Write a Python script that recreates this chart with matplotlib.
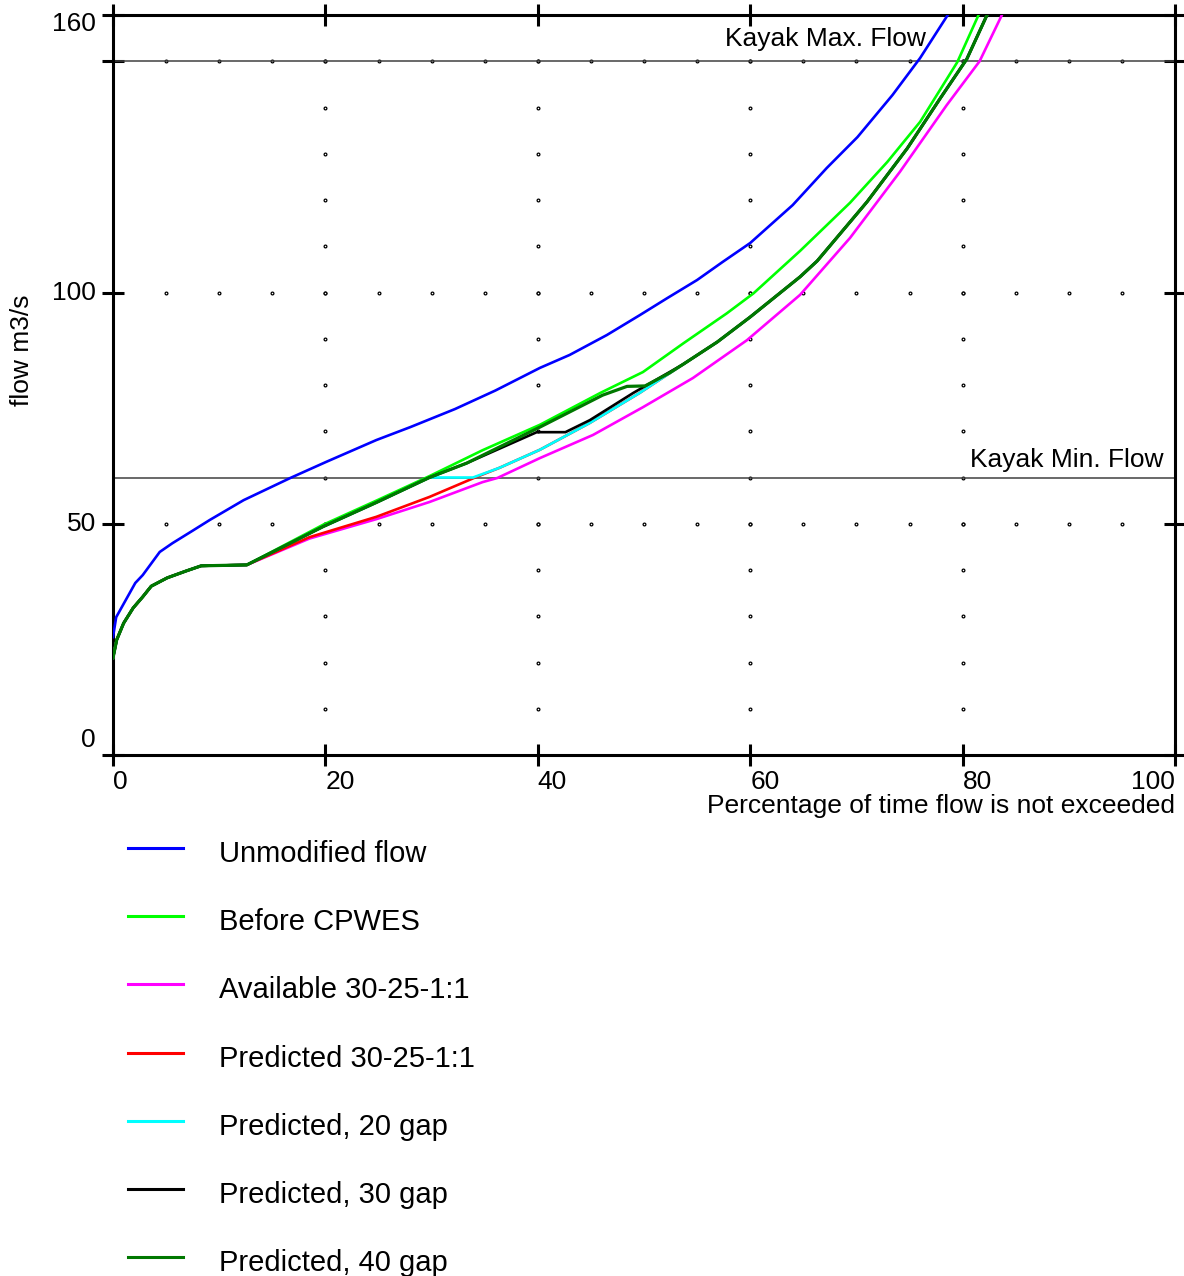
import matplotlib
matplotlib.use('Agg')
import matplotlib.pyplot as plt
from matplotlib.lines import Line2D
from matplotlib.transforms import offset_copy

plt.rcParams['font.family'] = ['Liberation Sans', 'DejaVu Sans']

# shared start of all regulated curves (0 .. 12.6 %)
low_x = [0, 0.35, 1.0, 1.9, 2.8, 3.6, 5.1, 6.9, 8.3, 12.6]
low_y = [21.0, 24.9, 28.5, 31.8, 34.2, 36.5, 38.3, 39.8, 40.9, 41.1]

# shared upper tail of predicted curves
tail_x = [53.7, 56.9, 60.0, 64.7, 66.3, 71.0, 74.8, 77.9, 80.4, 82.3]
tail_y = [84.5, 89.3, 94.7, 103.4, 106.8, 119.6, 131.2, 142.0, 150.5, 160.0]

unmod_x = [0, 0.3, 1.2, 2.1, 2.8, 4.4, 5.6, 7.5, 9.1, 12.3, 16.7, 20.1, 24.8,
           28.0, 32.2, 36.0, 40.2, 43.0, 46.5, 49.6, 52.2, 55.0, 57.4, 60.0,
           64.0, 67.2, 70.1, 73.4, 76.0, 78.6]
unmod_y = [25.5, 29.8, 33.5, 37.2, 38.9, 43.9, 45.8, 48.5, 50.8, 55.1, 59.9,
           63.4, 68.1, 70.9, 74.8, 78.8, 83.7, 86.5, 90.8, 95.1, 98.8, 102.7,
           106.6, 110.7, 118.9, 126.9, 133.6, 142.7, 150.7, 160.0]

before_x = low_x + [19.8, 24.8, 29.8, 34.8, 40.2, 45.9, 49.9, 53.7, 57.8,
                    60.3, 64.7, 69.4, 72.9, 76.0, 79.5, 81.5]
before_y = low_y + [49.8, 55.0, 60.3, 65.9, 71.4, 78.3, 82.8, 89.0, 95.5,
                    99.8, 109.0, 119.4, 128.2, 136.9, 149.8, 160.0]

avail_x = low_x + [18.5, 24.8, 29.8, 34.8, 36.2, 40.2, 45.2, 49.9, 54.6,
                   59.7, 64.7, 69.4, 74.1, 78.5, 81.6, 83.7]
avail_y = low_y + [46.8, 51.0, 54.7, 59.0, 59.9, 64.2, 69.2, 75.2, 81.5,
                   89.7, 99.5, 111.8, 126.1, 140.5, 150.0, 160.0]

pred_x = low_x + [18.5, 24.8, 29.8, 34.2, 36.4, 40.2, 44.9, 49.6] + tail_x
pred_y = low_y + [47.1, 51.5, 55.8, 60.1, 62.1, 66.0, 71.8, 78.3] + tail_y

gap20_x = low_x + [19.8, 24.8, 29.8, 33.9, 36.4, 40.2, 44.9, 49.6] + tail_x
gap20_y = low_y + [49.4, 54.6, 60.0, 60.0, 62.1, 66.0, 71.8, 78.3] + tail_y

gap30_x = low_x + [19.8, 24.8, 29.8, 33.3, 39.9, 42.6, 44.9, 49.0] + tail_x
gap30_y = low_y + [49.4, 54.6, 60.0, 63.1, 69.8, 69.8, 72.4, 78.3] + tail_y

gap40_x = low_x + [19.8, 24.8, 29.8, 33.3, 40.2, 46.1, 48.4, 50.1, 52.4] + tail_x
gap40_y = low_y + [49.4, 54.6, 60.0, 63.1, 70.9, 77.8, 79.7, 79.8, 82.6] + tail_y

series_names = ['Unmodified flow', 'Before CPWES', 'Available 30-25-1:1',
                'Predicted 30-25-1:1', 'Predicted, 20 gap', 'Predicted, 30 gap',
                'Predicted, 40 gap']
series_x = [unmod_x, before_x, avail_x, pred_x, gap20_x, gap30_x, gap40_x]
series_y = [unmod_y, before_y, avail_y, pred_y, gap20_y, gap30_y, gap40_y]
colors = ['#0000ff', '#00ff00', '#ff00ff', '#ff0000', '#00ffff', '#000000', '#007800']
widths = [1.9, 1.9, 1.9, 1.9, 1.9, 1.9, 2.3]

kayak_min = 60
kayak_max = 150
xticks = [0, 20, 40, 60, 80, 100]
yticks = [0, 50, 100, 160]

W, H = 1184, 1276
fig = plt.figure(figsize=(W / 100, H / 100), dpi=100)
ax = fig.add_axes([113 / W, 1 - 755 / H, (1175 - 113) / W, (755 - 15) / H])
ax.set_xlim(0, 100)
ax.set_ylim(0, 160)

# dotted grid
for gy in [50, 100, 150]:
    gx = list(range(0, 101, 5))
    ax.plot(gx, [gy] * len(gx), 'o', color='black', ms=2.0, mfc='white', mew=0.9, zorder=1)
for gx in [20, 40, 60, 80]:
    gy = list(range(10, 160, 10))
    ax.plot([gx] * len(gy), gy, 'o', color='black', ms=2.0, mfc='white', mew=0.9, zorder=1)

# kayak limits
ax.axhline(kayak_min, color='#404040', lw=1.1, zorder=2)
ax.axhline(kayak_max, color='#404040', lw=1.1, zorder=2)
ax.text(76.5, kayak_max, 'Kayak Max. Flow', ha='right', va='baseline', fontsize=19,
        transform=offset_copy(ax.transData, fig=fig, x=0, y=15, units='dots'))
ax.text(98.9, kayak_min, 'Kayak Min. Flow', ha='right', va='baseline', fontsize=19,
        transform=offset_copy(ax.transData, fig=fig, x=0, y=11, units='dots'))

for xs, ys, c, lw in zip(series_x, series_y, colors, widths):
    ax.plot(xs, ys, color=c, lw=lw, zorder=3, clip_on=True)

for s in ax.spines.values():
    s.set_linewidth(2.2)

ax.set_xticks(xticks)
ax.set_xticklabels([str(v) for v in xticks], fontsize=19)
for i, lab in enumerate(ax.get_xticklabels()):
    lab.set_ha('right' if i == len(xticks) - 1 else 'left')
ax.tick_params(axis='x', direction='inout', length=16, width=2.2, pad=3,
               top=True, bottom=True)
ax.set_yticks([0, 50, 100, 150, 160])
ax.set_yticklabels([])
ax.tick_params(axis='y', direction='inout', length=16, width=2.2,
               left=True, right=True)

# y tick labels, nudged inside the axis range at the ends
nudge = {0: 15, 160: -9}
for v in yticks:
    tr = offset_copy(ax.get_yaxis_transform(), fig=fig, x=-17, y=nudge.get(v, 0), units='dots')
    ax.text(0, v, str(v), ha='right', va='center', fontsize=19, transform=tr)

fig.text(1175 / W, 1 - 806 / H, 'Percentage of time flow is not exceeded',
         ha='right', va='center', fontsize=19)
fig.text(22 / W, 1 - 350 / H, 'flow m3/s', rotation=90, ha='center', va='center', fontsize=19)

# legend below the chart
row0, step = 848, 68.2
for i, (name, c) in enumerate(zip(series_names, colors)):
    py = row0 + i * step
    fig.add_artist(Line2D([128 / W, 183 / W], [1 - py / H, 1 - py / H],
                          color=c, lw=2.2, transform=fig.transFigure))
    fig.text(219 / W, 1 - (py + 6) / H, name, ha='left', va='center', fontsize=21)

fig.savefig('out.png', dpi=100)
